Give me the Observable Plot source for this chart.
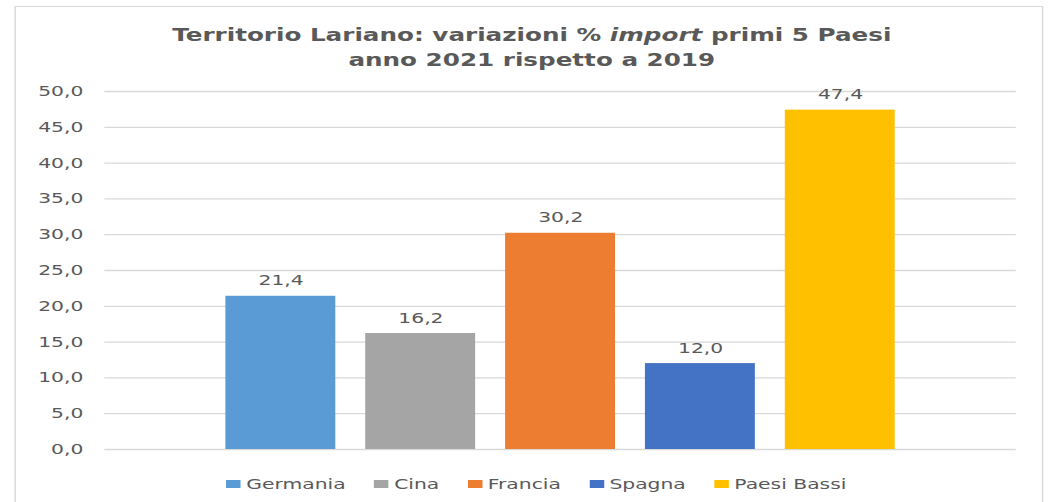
<!DOCTYPE html>
<html>
<head>
<meta charset="utf-8">
<script src="https://cdn.jsdelivr.net/npm/d3@7"></script>
<script src="https://cdn.jsdelivr.net/npm/@observablehq/plot@0.6"></script>
<style>
  html, body { margin: 0; padding: 0; background: #fff; }
  body { width: 1055px; height: 502px; overflow: hidden; }
  #stage {
    position: relative; width: 728px; height: 502px;
    transform: scaleX(1.449); transform-origin: 0 0;
  }
  #frame {
    position: absolute; left: 10px; top: 6px; width: 710px; height: 520px;
    border: 1.5px solid #d9d9d9; box-sizing: border-box;
  }
  #title {
    position: absolute; left: 0; width: 734px; top: 23px; text-align: center;
    font-family: "DejaVu Sans", sans-serif; font-weight: bold;
    font-size: 17px; line-height: 25px; color: #595959;
  }
  #chart { position: absolute; left: 0; top: 70px; }
  #legend {
    position: absolute; left: 156px; top: 476px; display: flex; align-items: center;
    font-family: "DejaVu Sans", sans-serif; font-size: 14px; line-height: 16px; color: #595959;
    white-space: nowrap;
  }
  .item { display: flex; align-items: center; margin-right: 19.5px; }
  .sw { width: 10px; height: 8px; margin-right: 4px; }
</style>
</head>
<body>
<div id="stage">
  <div id="frame"></div>
  <div id="title">Territorio Lariano: variazioni % <i>import</i> primi 5 Paesi<br>anno 2021 rispetto a 2019</div>
  <div id="chart"></div>
  <div id="legend"></div>
</div>
<script>
const countries = ["Germania", "Cina", "Francia", "Spagna", "Paesi Bassi"];
const values = [21.4, 16.2, 30.2, 12.0, 47.4];
const colors = ["#5B9BD5", "#A5A5A5", "#ED7D31", "#4472C4", "#FFC000"];
const yTicks = [0, 5, 10, 15, 20, 25, 30, 35, 40, 45, 50];

const data = countries.map((c, i) => ({country: c, value: values[i]}));
const fmt = d => d.toFixed(1).replace(".", ",");

const plot = Plot.plot({
  width: 728,
  height: 400,
  marginTop: 21,
  marginBottom: 21,
  marginLeft: 72,
  marginRight: 27,
  style: {fontFamily: "DejaVu Sans, sans-serif", fontSize: "14px", color: "#595959", background: "transparent"},
  x: {domain: countries, paddingInner: 0.214, paddingOuter: 0.8655, round: false, axis: null},
  y: {domain: [0, 50], ticks: yTicks, tickFormat: fmt, tickSize: 0, tickPadding: 15, label: null},
  color: {domain: countries, range: colors},
  marks: [
    Plot.gridY(yTicks, {stroke: "#d9d9d9", strokeOpacity: 1, strokeWidth: 1.3}),
    Plot.axisY({ticks: yTicks, tickFormat: fmt, tickSize: 0, tickPadding: 15, label: null}),
    Plot.barY(data, {x: "country", y: "value", fill: "country"}),
    Plot.text(data, {x: "country", y: "value", text: d => fmt(d.value), lineAnchor: "bottom", dy: -11, fill: "#595959"})
  ]
});
document.getElementById("chart").appendChild(plot);

const legend = document.getElementById("legend");
countries.forEach((c, i) => {
  const item = document.createElement("div");
  item.className = "item";
  const sw = document.createElement("div");
  sw.className = "sw";
  sw.style.background = colors[i];
  const label = document.createElement("span");
  label.textContent = c;
  item.appendChild(sw);
  item.appendChild(label);
  legend.appendChild(item);
});
</script>
</body>
</html>
